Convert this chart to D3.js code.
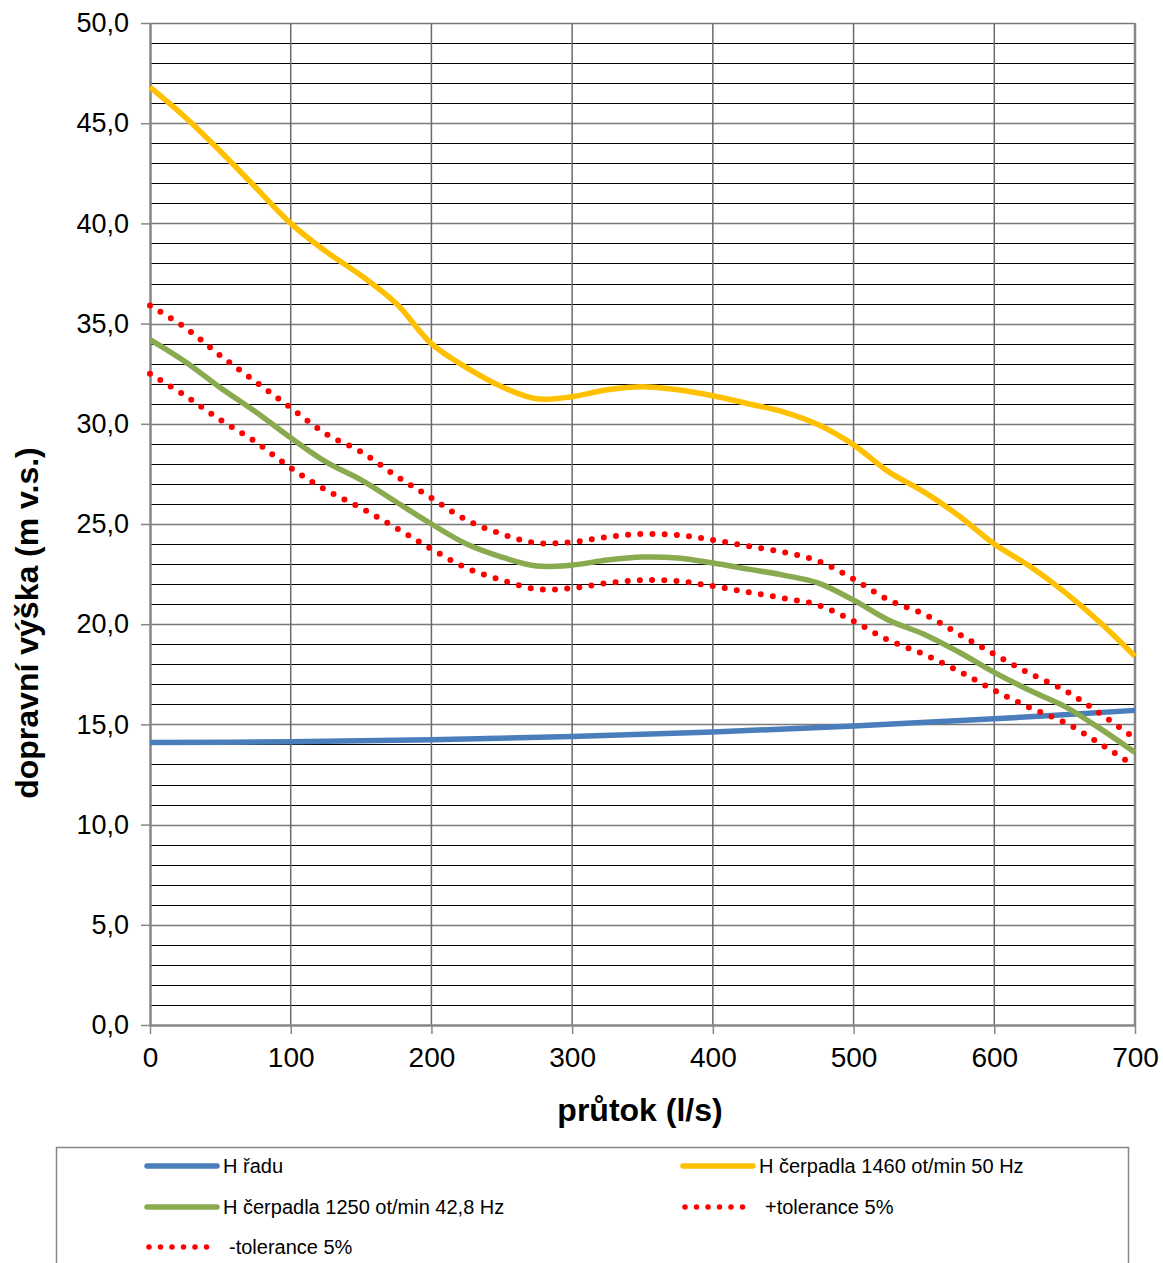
<!DOCTYPE html>
<html>
<head>
<meta charset="utf-8">
<script src="https://cdn.jsdelivr.net/npm/d3@7"></script>
<style>
  body { margin: 0; background: #fff; }
  svg { display: block; font-family: "Liberation Sans", Arial, sans-serif; }
  .grid-minor { stroke: #000; stroke-width: 1; }
  .grid-major { stroke: #7a7a7a; stroke-width: 1.5; }
  .grid-v { stroke: #6a6a6a; stroke-width: 1.5; }
  .series { fill: none; stroke-width: 5.5; stroke-linejoin: round; }
  .dotted { fill: none; stroke: #ff0000; stroke-width: 6; stroke-linecap: round; stroke-dasharray: 0 12.2; }
</style>
</head>
<body>
<svg width="1163" height="1263"></svg>
<script>
// flow (l/s)
var flow = [0, 25, 50, 75, 100, 125, 150, 175, 200, 225, 250, 275, 300, 325, 350,
            375, 400, 425, 450, 475, 500, 525, 550, 575, 600, 625, 650, 675, 700];

var flowPipe = [0, 100, 200, 300, 400, 500, 600, 700];
var hPipe = [14.1, 14.13, 14.23, 14.39, 14.62, 14.92, 15.28, 15.7];

var hPump50 = [46.8, 45.3, 43.6, 41.8, 40.0, 38.6, 37.4, 36.0, 34.0, 32.8, 31.85, 31.25, 31.35, 31.7, 31.85,
               31.7, 31.4, 31.0, 30.6, 29.95, 28.95, 27.6, 26.6, 25.4, 24.0, 22.9, 21.6, 20.1, 18.4];

var hPump43 = [34.2, 33.1, 31.8, 30.6, 29.3, 28.1, 27.2, 26.1, 25.0, 24.0, 23.35, 22.9, 22.95, 23.2, 23.35,
               23.3, 23.05, 22.75, 22.45, 22.05, 21.2, 20.2, 19.5, 18.6, 17.6, 16.7, 15.9, 14.8, 13.6];

var tolPlus = [35.9, 34.8, 33.4, 32.1, 30.8, 29.5, 28.6, 27.4, 26.3, 25.2, 24.5, 24.05, 24.1, 24.35, 24.5,
               24.45, 24.2, 23.9, 23.6, 23.15, 22.25, 21.2, 20.5, 19.5, 18.5, 17.55, 16.7, 15.55, 14.3];

var tolMinus = [32.5, 31.4, 30.2, 29.1, 27.8, 26.7, 25.8, 24.8, 23.75, 22.8, 22.2, 21.75, 21.8, 22.05, 22.2,
                22.15, 21.9, 21.6, 21.3, 20.95, 20.15, 19.2, 18.5, 17.65, 16.7, 15.85, 15.1, 14.05, 12.9];

var xTicks = [0, 100, 200, 300, 400, 500, 600, 700];
var yTicks = [0, 5, 10, 15, 20, 25, 30, 35, 40, 45, 50];

var legendItems = [
    { label: 'H řadu', color: '#4a7ebb', dotted: false },
    { label: 'H čerpadla 1460 ot/min 50 Hz', color: '#ffc000', dotted: false },
    { label: 'H čerpadla 1250 ot/min 42,8 Hz', color: '#8aaa4f', dotted: false },
    { label: '+tolerance 5%', color: '#ff0000', dotted: true },
    { label: '-tolerance 5%', color: '#ff0000', dotted: true }
];

var margin = { left: 150, top: 23, right: 28, bottom: 238 };
var WIDTH = 1163 - margin.left - margin.right;
var HEIGHT = 1263 - margin.top - margin.bottom;

var svg = d3.select('svg');
svg.append('rect').attr('width', 1163).attr('height', 1263).attr('fill', '#fff');

var g = svg.append('g')
    .attr('transform', 'translate(' + margin.left + ',' + margin.top + ')');

var x = d3.scaleLinear().domain([0, 700]).range([0, WIDTH]);
var y = d3.scaleLinear().domain([0, 50]).range([HEIGHT, 0]);

var fmt = function(d) { return d3.format('.1f')(d).replace('.', ','); };

// horizontal grid, every 1 m
var gridGroup = g.append('g').attr('id', 'grid');
gridGroup.selectAll('line.h')
    .data(d3.range(1, 51))
    .enter()
    .append('line')
    .attr('class', function(d) { return d % 5 === 0 ? 'grid-major' : 'grid-minor'; })
    .attr('x1', 0)
    .attr('x2', WIDTH)
    .attr('y1', function(d) { return Math.round(y(d)) + 0.5; })
    .attr('y2', function(d) { return Math.round(y(d)) + 0.5; });

// vertical grid
gridGroup.selectAll('line.v')
    .data(xTicks.slice(1))
    .enter()
    .append('line')
    .attr('class', 'grid-v')
    .attr('x1', function(d) { return x(d); })
    .attr('x2', function(d) { return x(d); })
    .attr('y1', 0)
    .attr('y2', HEIGHT);

// axes
var axisX = d3.axisBottom(x).tickValues(xTicks).tickSize(9).tickSizeOuter(0).tickPadding(13);
var axisY = d3.axisLeft(y).tickValues(yTicks).tickSize(9).tickSizeOuter(0).tickPadding(12).tickFormat(fmt);

var gx = g.append('g')
    .attr('transform', 'translate(0,' + HEIGHT + ')')
    .call(axisX);
var gy = g.append('g').call(axisY);

[gx, gy].forEach(function(a) {
    a.select('.domain').attr('stroke', '#868686').attr('stroke-width', 2.5);
    a.selectAll('.tick line').attr('stroke', '#868686').attr('stroke-width', 1.5);
    a.selectAll('.tick text')
        .attr('fill', '#000')
        .style('font-family', '"Liberation Sans", Arial, sans-serif');
});
gx.selectAll('.tick text').style('font-size', '28px');
gy.selectAll('.tick text').style('font-size', '27px');

// right border of plot
g.append('line')
    .attr('x1', WIDTH).attr('x2', WIDTH)
    .attr('y1', 0).attr('y2', HEIGHT)
    .attr('stroke', '#868686').attr('stroke-width', 2.5);

// series
var lineGroup = g.append('g').attr('id', 'lines');

function drawLine(xs, ys, cls, color) {
    var pts = xs.map(function(d, i) { return [d, ys[i]]; });
    var line = d3.line()
        .x(function(d) { return x(d[0]); })
        .y(function(d) { return y(d[1]); })
        .curve(d3.curveCatmullRom.alpha(0.5));
    lineGroup.append('path')
        .datum(pts)
        .attr('class', cls)
        .style('stroke', color)
        .attr('d', line);
}

drawLine(flowPipe, hPipe, 'series', '#4a7ebb');
drawLine(flow, hPump50, 'series', '#ffc000');
drawLine(flow, hPump43, 'series', '#8aaa4f');
drawLine(flow, tolPlus, 'dotted', '#ff0000');
drawLine(flow, tolMinus, 'dotted', '#ff0000');

// axis titles
svg.append('text')
    .attr('x', 640)
    .attr('y', 1121)
    .attr('text-anchor', 'middle')
    .style('font-size', '32px')
    .style('font-weight', 'bold')
    .text('průtok (l/s)');

svg.append('text')
    .attr('transform', 'translate(38,623) rotate(-90)')
    .attr('text-anchor', 'middle')
    .style('font-size', '32px')
    .style('font-weight', 'bold')
    .text('dopravní výška (m v.s.)');

// legend
var legend = svg.append('g').attr('id', 'legend');
legend.append('rect')
    .attr('x', 56.5).attr('y', 1147.5)
    .attr('width', 1072).attr('height', 130)
    .attr('fill', '#fff')
    .attr('stroke', '#868686')
    .attr('stroke-width', 1.5);

var colX = [147, 683];
var rowY = [1166, 1207, 1247];

legendItems.forEach(function(item, i) {
    var lx = colX[i % 2];
    var ly = rowY[Math.floor(i / 2)];
    var sample = legend.append('line')
        .attr('x1', lx).attr('x2', lx + 70)
        .attr('y1', ly).attr('y2', ly)
        .attr('stroke', item.color);
    if (item.dotted) {
        sample.attr('stroke-width', 5.5)
            .attr('stroke-linecap', 'round')
            .attr('stroke-dasharray', '0 11.5')
            .attr('x1', lx + 2).attr('x2', lx + 66);
    } else {
        sample.attr('stroke-width', 5.5).attr('stroke-linecap', 'round');
    }
    legend.append('text')
        .attr('x', item.dotted ? lx + 82 : lx + 76)
        .attr('y', ly + 7)
        .style('font-size', '20px')
        .text(item.label);
});
</script>
</body>
</html>
